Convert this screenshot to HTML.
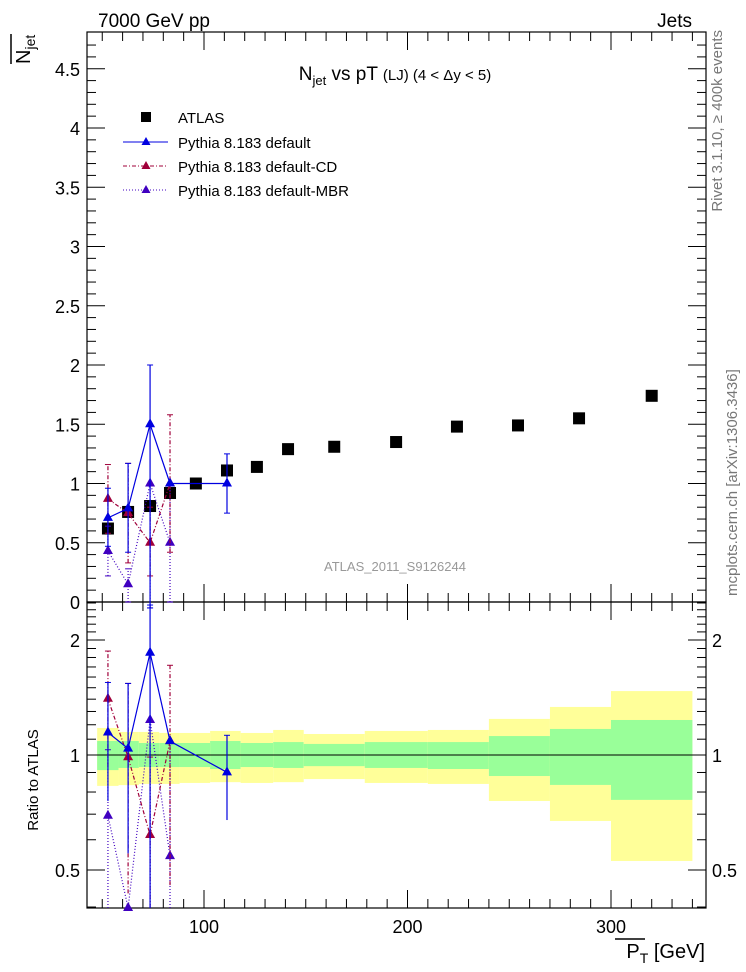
<!DOCTYPE html>
<html><head><meta charset="utf-8"><style>
body{margin:0;background:#fff}
svg{display:block;font-family:"Liberation Sans",sans-serif}
</style></head><body>
<svg id="c" width="746" height="972" viewBox="0 0 746 972">
<text x="98" y="27" font-size="19">7000 GeV pp</text>
<text x="692" y="27" font-size="19" text-anchor="end">Jets</text>
<text x="395" y="80" font-size="19" text-anchor="middle">N<tspan font-size="13" dy="5">jet</tspan><tspan dy="-5"> vs pT </tspan><tspan font-size="15">(LJ) (4 &lt; Δy &lt; 5)</tspan></text>
<text x="395" y="571" font-size="13" fill="#999" text-anchor="middle">ATLAS_2011_S9126244</text>
<text transform="translate(722,30) rotate(-90)" font-size="15" fill="#777" text-anchor="end">Rivet 3.1.10, ≥ 400k events</text>
<text transform="translate(737,596) rotate(-90)" font-size="15" fill="#777">mcplots.cern.ch [arXiv:1306.3436]</text>
<g transform="translate(30,64) rotate(-90)"><text x="0" y="0" font-size="20">N<tspan font-size="14" dy="5">jet</tspan></text><line x1="0" y1="-19" x2="30" y2="-19" stroke="#000" stroke-width="1.5"/></g>
<text transform="translate(38,780) rotate(-90)" font-size="15" text-anchor="middle">Ratio to ATLAS</text>
<g><text x="705" y="958" font-size="20" text-anchor="end">P<tspan font-size="14" dy="5">T</tspan><tspan dy="-5"> [GeV]</tspan></text><line x1="615" y1="939" x2="645" y2="939" stroke="#000" stroke-width="1.5"/></g>
<g id="legend">
<g><rect x="141" y="112" width="10" height="10" fill="#000"/><text x="178" y="123" font-size="15">ATLAS</text></g>
<g><line x1="123" y1="142" x2="168" y2="142" stroke="#0000e0"/><path d="M146,137 l4.5,8 h-9z" fill="#0000e0"/><text x="178" y="148" font-size="15">Pythia 8.183 default</text></g>
<g><line x1="123" y1="166" x2="168" y2="166" stroke="#a0003a" stroke-dasharray="4,2,1,2"/><path d="M146,161 l4.5,8 h-9z" fill="#a0003a"/><text x="178" y="172" font-size="15">Pythia 8.183 default-CD</text></g>
<g><line x1="123" y1="190" x2="168" y2="190" stroke="#4000c0" stroke-dasharray="1,2"/><path d="M146,185 l4.5,8 h-9z" fill="#4000c0"/><text x="178" y="196" font-size="15">Pythia 8.183 default-MBR</text></g>
</g>
</svg>
<script>
const binEdges=[47.5,58,68,78,88,103,118,134,149,179,210,240,270,300,340];
const atlasX=[52.8,62.7,73.5,83.3,96,111.3,126,141.3,164,194.4,224.3,254.3,284.3,320];
const atlasY=[0.62,0.76,0.81,0.92,1.0,1.11,1.14,1.29,1.31,1.35,1.48,1.49,1.55,1.74];
const bandYellowHi=[1.177,1.149,1.149,1.142,1.142,1.156,1.142,1.163,1.135,1.156,1.163,1.243,1.336,1.47];
const bandYellowLo=[0.830,0.834,0.840,0.840,0.845,0.849,0.845,0.849,0.865,0.845,0.840,0.758,0.672,0.528];
const bandGreenHi=[1.088,1.088,1.075,1.075,1.075,1.088,1.075,1.081,1.069,1.081,1.081,1.121,1.170,1.235];
const bandGreenLo=[0.913,0.925,0.930,0.930,0.930,0.919,0.930,0.925,0.935,0.925,0.919,0.881,0.835,0.763];
const mcX=[52.8,62.7,73.5,83.3,111.3];
const defY=[0.71,0.79,1.5,1.0,1.0];
const defLo=[0.47,0.42,-0.05,1.0,0.75];
const defHi=[0.96,1.17,2.0,1.0,1.25];
const cdY=[0.87,0.75,0.5,1.0];
const cdLo=[0.58,0.33,0.22,0.42];
const cdHi=[1.16,1.17,0.8,1.58];
const mbrY=[0.43,0.15,1.0,0.5];
const mbrLo=[0.22,0.0,-0.05,0.0];
const mbrHi=[0.64,0.28,1.0,1.0];
const yTicks=[0,0.5,1,1.5,2,2.5,3,3.5,4,4.5];
const xTicks=[100,200,300];
const rTicks=[0.5,1,2];

const NS="http://www.w3.org/2000/svg",svg=document.getElementById('c');
const L=87,R=706,T=32,M=602,B=908;
const sx=v=>0.5+v*2.035;
const sy=v=>602-v*118.5;
const sr=v=>755-115*Math.log2(v);
function el(t,a,p){const e=document.createElementNS(NS,t);for(const k in a)e.setAttribute(k,a[k]);(p||svg).appendChild(e);return e;}
const cl=(v,a,b)=>Math.max(a,Math.min(b,v));
function refAt(x){let best=0;atlasX.forEach((ax,i)=>{if(Math.abs(ax-x)<Math.abs(atlasX[best]-x))best=i;});return atlasY[best];}
// bands
const gb=el('g',{});


for(let i=0;i<atlasY.length;i++){
 const x0=sx(binEdges[i]),x1=sx(binEdges[i+1]);
 const y=el('rect',{x:x0,y:sr(bandYellowHi[i]),width:x1-x0,height:sr(bandYellowLo[i])-sr(bandYellowHi[i]),fill:'#ffff99'},gb);
 
 
 const g=el('rect',{x:x0,y:sr(bandGreenHi[i]),width:x1-x0,height:sr(bandGreenLo[i])-sr(bandGreenHi[i]),fill:'#99ff99'},gb);
 
 
}
el('line',{x1:L,x2:R,y1:sr(1),y2:sr(1),stroke:'#000','stroke-width':1});
const f1=el('rect',{x:L,y:T,width:R-L,height:M-T,fill:'none',stroke:'#000','stroke-width':1.2});


const f2=el('rect',{x:L,y:M,width:R-L,height:B-M,fill:'none',stroke:'#000','stroke-width':1.2});


for(let v=50;v<=340;v+=10){
 const X=sx(v),big=v%100==0,len=big?18:9;
 for(const [y0,d] of [[M,-1],[T,1],[B,-1],[M,1]]) el('line',{x1:X,x2:X,y1:y0,y2:y0+d*len,stroke:'#000'});
}
xTicks.forEach(v=>{const t=el('text',{x:sx(v),y:B+25,'font-size':18,'text-anchor':'middle'});t.textContent=v;

});
for(let k=0;k<=47;k++){const v=k/10,Y=sy(v);if(Y<T)break;const big=k%5==0,len=big?18:9;
 el('line',{x1:L,x2:L+len,y1:Y,y2:Y,stroke:'#000'});el('line',{x1:R,x2:R-len,y1:Y,y2:Y,stroke:'#000'});}
yTicks.forEach(v=>{const t=el('text',{x:80,y:sy(v)+7,'font-size':18,'text-anchor':'end'});t.textContent=v;

});
const rMinor=[0.4,0.5,0.6,0.7,0.8,0.9,1,1.1,1.2,1.3,1.4,1.5,1.6,1.7,1.8,1.9,2,2.1,2.2,2.3,2.4,2.5];
rMinor.forEach(v=>{const Y=sr(v);if(Y<M||Y>B)return;const big=rTicks.includes(v),len=big?18:9;
 el('line',{x1:L,x2:L+len,y1:Y,y2:Y,stroke:'#000'});el('line',{x1:R,x2:R-len,y1:Y,y2:Y,stroke:'#000'});});
rTicks.forEach(v=>{for(const [x,a] of [[80,'end'],[712,'start']]){const t=el('text',{x:x,y:sr(v)+7,'font-size':18,'text-anchor':a});t.textContent=v;

}});
function series(name,col,dash,xs,ys,lo,hi,topMode){
 const g=el('g',{});
 
 
 const fy=topMode?(v=>cl(sy(v),T,M+20)):((v,i)=>{const r=v/refAt(xs[i]);return r<=0?B:cl(sr(r),M,B);});
 const pts=xs.map((x,i)=>sx(x)+','+fy(ys[i],i)).join(' ');
 el('polyline',{points:pts,fill:'none',stroke:col,'stroke-width':1.2,'stroke-dasharray':dash},g);
 xs.forEach((x,i)=>{const X=sx(x),a=fy(lo[i],i),b=fy(hi[i],i);
  el('line',{x1:X,x2:X,y1:a,y2:b,stroke:col,'stroke-width':1.2,'stroke-dasharray':dash},g);
  if(hi[i]!=ys[i])el('line',{x1:X-3,x2:X+3,y1:b,y2:b,stroke:col},g);
  if(lo[i]!=ys[i]&&a<B&&a<M+20)el('line',{x1:X-3,x2:X+3,y1:a,y2:a,stroke:col},g);
  const Y=fy(ys[i],i);
  const m=el('path',{d:`M${X},${Y-6} l5,9 h-10z`,fill:col},g);
  
  
 });
}
const ga=el('g',{});


atlasX.forEach((x,i)=>{const r=el('rect',{x:sx(x)-6,y:sy(atlasY[i])-6,width:12,height:12,fill:'#000'},ga);

});
for(const top of [true,false]){
 series('pythia-mbr','#4000c0','1,2',mcX.slice(0,4),mbrY,mbrLo,mbrHi,top);
 series('pythia-cd','#a0003a','4,2,1,2',mcX.slice(0,4),cdY,cdLo,cdHi,top);
 series('pythia-default','#0000e0','',mcX,defY,defLo,defHi,top);
}
</script>
</body></html>
